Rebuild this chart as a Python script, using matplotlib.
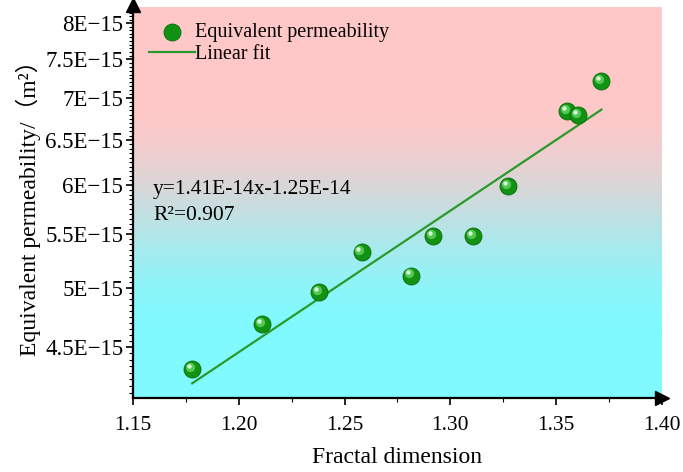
import matplotlib.pyplot as plt
import matplotlib.transforms as mtransforms
import numpy as np
from matplotlib.ticker import FixedLocator, NullFormatter

# fractal dimension vs equivalent permeability (m^2)
fractal_dim = [1.178, 1.211, 1.238, 1.258, 1.2815, 1.2917, 1.3105, 1.3274, 1.355, 1.3604, 1.3714]
permeability = [4.33e-15, 4.69e-15, 4.96e-15, 5.33e-15, 5.11e-15, 5.485e-15, 5.485e-15,
                5.99e-15, 6.84e-15, 6.79e-15, 7.22e-15]

# ends of the fitted line as drawn in the figure
fit_x = [1.178, 1.3714]
fit_y = [4.22e-15, 6.86e-15]

x_ticks = [1.15, 1.20, 1.25, 1.30, 1.35, 1.40]
y_ticks = [4.5e-15, 5e-15, 5.5e-15, 6e-15, 6.5e-15, 7e-15, 7.5e-15, 8e-15]
y_labels = ["4.5E\u221215", "5E\u221215", "5.5E\u221215", "6E\u221215",
            "6.5E\u221215", "7E\u221215", "7.5E\u221215", "8E\u221215"]

plt.rcParams["font.family"] = ["Liberation Serif", "Noto Sans CJK SC"]

fig = plt.figure(figsize=(6.83, 4.72), dpi=100)
ax = fig.add_axes([0.1947, 0.157, 0.7745, 0.828])

ax.set_yscale("log")
ax.set_xlim(1.15, 1.40)
ax.set_ylim(4.112e-15, 8.23e-15)

# pink -> cyan background
t = np.linspace(0, 1, 256)
ramp = np.clip((t - 0.24) / 0.6, 0, 1)
ramp = ramp * ramp * (3 - 2 * ramp)
pink = np.array([255, 200, 200]) / 255
cyan = np.array([128, 250, 255]) / 255
grad = pink[None, :] * (1 - ramp[:, None]) + cyan[None, :] * ramp[:, None]
ax.imshow(grad[:, None, :], extent=[0, 1, 0, 1], transform=ax.transAxes,
          aspect="auto", zorder=0)

ax.plot(fit_x, fit_y, color="#2a9a2a", lw=1.6, zorder=2, label="Linear fit")

# glossy sphere markers
ax.scatter(fractal_dim, permeability, s=150, color="#129212", edgecolor="#0a6a0a",
           linewidth=0.6, zorder=3, label="Equivalent permeability")
shine = mtransforms.offset_copy(ax.transData, fig=fig, x=-1.5, y=1.5, units="points")
ax.scatter(fractal_dim, permeability, s=45, color="#52c852", lw=0, zorder=4, transform=shine)
shine2 = mtransforms.offset_copy(ax.transData, fig=fig, x=-2.2, y=2.2, units="points")
ax.scatter(fractal_dim, permeability, s=10, color="#d8f5d8", lw=0, zorder=5, transform=shine2)

for side in ["top", "right"]:
    ax.spines[side].set_visible(False)
for side in ["left", "bottom"]:
    ax.spines[side].set_linewidth(1.6)

ax.plot(1, 0, ">", color="black", ms=10, transform=ax.transAxes, clip_on=False, zorder=6)
ax.plot(0, 1.005, "^", color="black", ms=10, transform=ax.transAxes, clip_on=False, zorder=6)

ax.set_xticks(x_ticks)
ax.set_xticklabels([f"{v:.2f}" for v in x_ticks])
ax.xaxis.set_minor_locator(FixedLocator(np.arange(1.175, 1.40, 0.05)))
ax.set_yticks(y_ticks)
ax.set_yticklabels(y_labels)
ax.yaxis.set_minor_locator(FixedLocator(np.arange(4.15e-15, 8.2e-15, 0.05e-15)))
ax.yaxis.set_minor_formatter(NullFormatter())
ax.tick_params(which="major", length=5, width=1.2, direction="out")
ax.tick_params(which="minor", length=3, width=0.8, direction="out")
ax.tick_params(axis="x", labelsize=15.5, pad=8)
ax.tick_params(axis="y", labelsize=16.5, pad=2)

ax.set_xlabel("Fractal dimension", fontsize=17, labelpad=9)
ax.set_ylabel("Equivalent permeability/\uff08m\u00b2\uff09", fontsize=17, labelpad=3)

ax.text(0.038, 0.5, "y=1.41E-14x-1.25E-14\nR\u00b2=0.907", transform=ax.transAxes,
        fontsize=15.5, va="center", linespacing=1.45)

handles, labels = ax.get_legend_handles_labels()
ax.legend(handles[::-1], labels[::-1], loc="upper left", frameon=False, fontsize=14.5,
          handlelength=2.3, borderaxespad=0.4, labelspacing=0.15, handletextpad=0.0,
          bbox_to_anchor=(0.0, 1.0))

plt.savefig("out.png", dpi=100)
plt.close()
